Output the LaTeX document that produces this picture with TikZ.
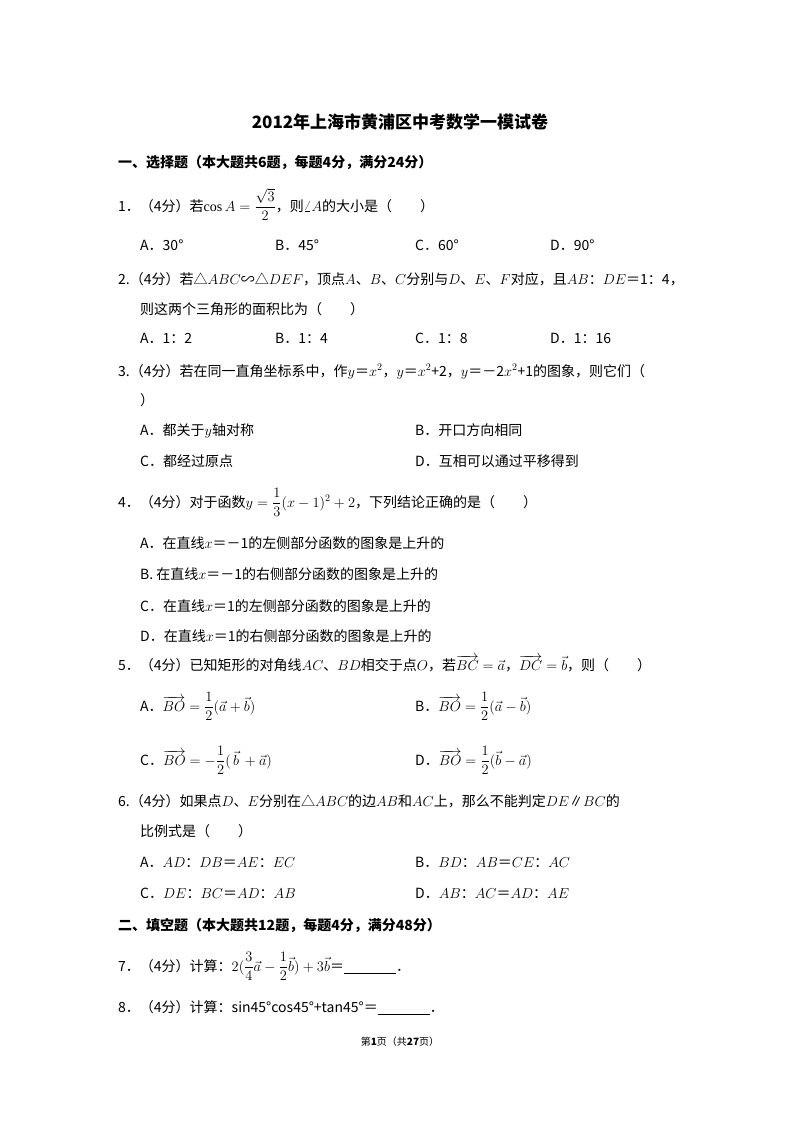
\documentclass[tikz,border=0pt]{standalone}
\usepackage{amsmath}
\usepackage{fontspec}
\setmainfont{Liberation Serif}
\newfontfamily\cjk{Noto Sans CJK SC}
\usetikzlibrary{positioning}

\tikzset{
  txt/.style={anchor=base west, inner sep=0pt, font=\fontsize{14}{17}\selectfont\cjk},
  head/.style={txt, font=\fontsize{14}{17}\selectfont\cjk\bfseries},
}
\newcommand{\blankline}{\underline{\hspace{52pt}}}

\begin{document}
\begin{tikzpicture}[x=1pt,y=1pt]
        \useasboundingbox[fill=white] (0,0) rectangle (800,-1132);

        \node[anchor=base, inner sep=0pt, font=\fontsize{17}{20}\selectfont\cjk\bfseries] (title) at (400,-128) {2012年上海市黄浦区中考数学一模试卷};

        \node[head] (s1) at (118,-167) {一、选择题（本大题共6题，每题4分，满分24分）};

        \node[txt] (q1) at (118,-211) {1．（4分）若$\cos A=\dfrac{\sqrt3}{2}$，则$\angle A$的大小是（\qquad）};
        \node[txt] (q1a) at (140,-250) {A．30°};
        \node[txt] (q1b) at (275,-250) {B．45°};
        \node[txt] (q1c) at (415,-250) {C．60°};
        \node[txt] (q1d) at (550,-250) {D．90°};

        \node[txt] (q2) at (118,-284) {2.（4分）若△$ABC$∽△$DEF$，顶点$A$、$B$、$C$分别与$D$、$E$、$F$对应，且$AB$：$DE$＝1：4，};
        \node[txt] (q2l) at (140,-314) {则这两个三角形的面积比为（\qquad）};
        \node[txt] (q2a) at (140,-343) {A．1：2};
        \node[txt] (q2b) at (275,-343) {B．1：4};
        \node[txt] (q2c) at (415,-343) {C．1：8};
        \node[txt] (q2d) at (550,-343) {D．1：16};

        \node[txt] (q3) at (118,-376) {3.（4分）若在同一直角坐标系中，作$y$＝$x^2$，$y$＝$x^2$+2，$y$＝－2$x^2$+1的图象，则它们（};
        \node[txt] (q3l) at (140,-405) {）};
        \node[txt] (q3a) at (140,-435) {A．都关于$y$轴对称};
        \node[txt] (q3b) at (415,-435) {B．开口方向相同};
        \node[txt] (q3c) at (140,-466) {C．都经过原点};
        \node[txt] (q3d) at (415,-466) {D．互相可以通过平移得到};

        \node[txt] (q4) at (118,-507) {4．（4分）对于函数$y=\dfrac13(x-1)^2+2$，下列结论正确的是（\qquad）};
        \node[txt] (q4a) at (140,-548) {A．在直线$x$＝－1的左侧部分函数的图象是上升的};
        \node[txt] (q4b) at (140,-579) {B. 在直线$x$＝－1的右侧部分函数的图象是上升的};
        \node[txt] (q4c) at (140,-611) {C．在直线$x$＝1的左侧部分函数的图象是上升的};
        \node[txt] (q4d) at (140,-641) {D．在直线$x$＝1的右侧部分函数的图象是上升的};

        \node[txt] (q5) at (118,-670) {5．（4分）已知矩形的对角线$AC$、$BD$相交于点$O$，若$\overrightarrow{BC}=\vec a$，$\overrightarrow{DC}=\vec b$，则（\qquad）};
        \node[txt] (q5a) at (140,-711) {A．$\overrightarrow{BO}=\dfrac12(\vec a+\vec b)$};
        \node[txt] (q5b) at (415,-711) {B．$\overrightarrow{BO}=\dfrac12(\vec a-\vec b)$};
        \node[txt] (q5c) at (140,-765) {C．$\overrightarrow{BO}=-\dfrac12(\,\vec b\,+\vec a)$};
        \node[txt] (q5d) at (415,-765) {D．$\overrightarrow{BO}=\dfrac12(\vec b-\vec a)$};

        \node[txt] (q6) at (118,-806) {6.（4分）如果点$D$、$E$分别在△$ABC$的边$AB$和$AC$上，那么不能判定$DE$∥$BC$的};
        \node[txt] (q6l) at (140,-836) {比例式是（\qquad）};
        \node[txt] (q6a) at (140,-867) {A．$AD$：$DB$＝$AE$：$EC$};
        \node[txt] (q6b) at (415,-867) {B．$BD$：$AB$＝$CE$：$AC$};
        \node[txt] (q6c) at (140,-898) {C．$DE$：$BC$＝$AD$：$AB$};
        \node[txt] (q6d) at (415,-898) {D．$AB$：$AC$＝$AD$：$AE$};

        \node[head] (s2) at (118,-930) {二、填空题（本大题共12题，每题4分，满分48分）};

        \node[txt] (q7) at (118,-971) {7．（4分）计算：$2(\dfrac34\vec a-\dfrac12\vec b)+3\vec b$＝\blankline．};
        \node[txt] (q8) at (118,-1012) {8．（4分）计算：sin45°cos45°+tan45°＝\blankline．};

        \node[anchor=base, inner sep=0pt, font=\fontsize{10}{12}\selectfont\cjk] (foot) at (400,-1045) {第\textbf{1}页（共\textbf{27}页）};
\end{tikzpicture}
\end{document}
